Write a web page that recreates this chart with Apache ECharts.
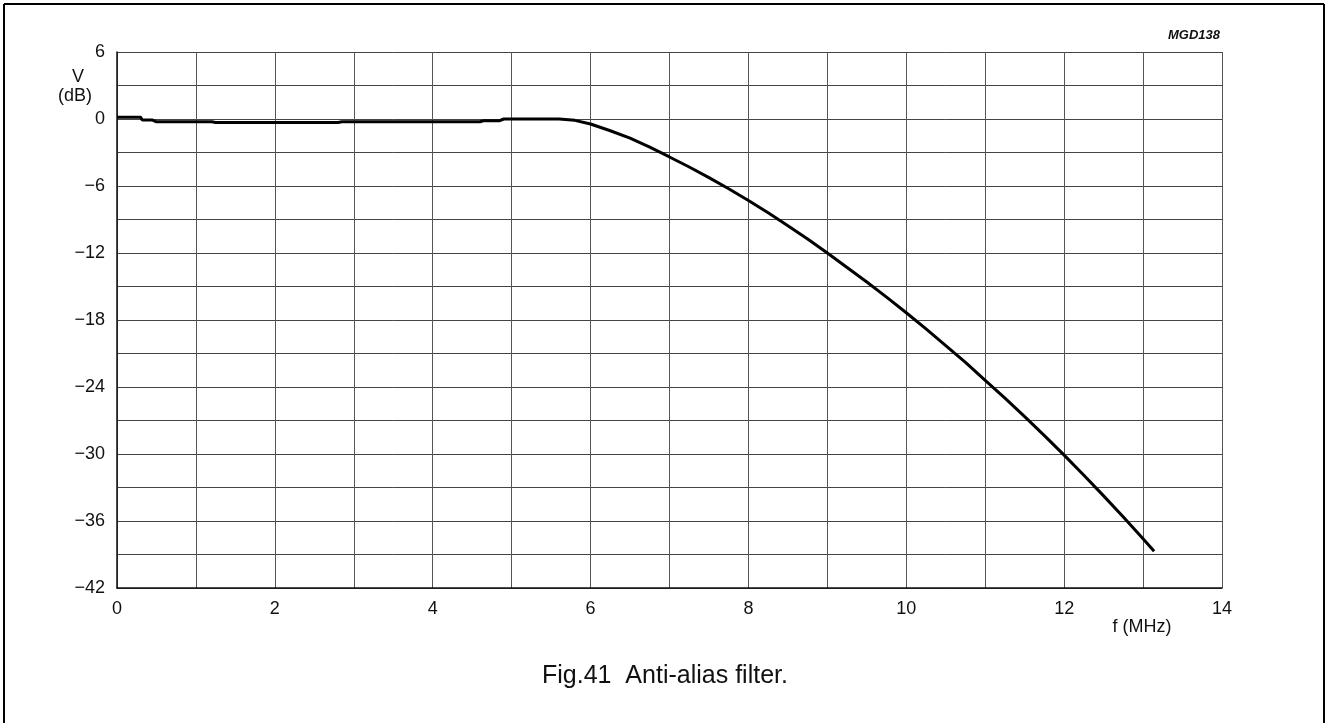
<!DOCTYPE html>
<html>
<head>
<meta charset="utf-8">
<script src="https://cdn.jsdelivr.net/npm/echarts@6/dist/echarts.min.js"></script>
<style>
html,body{margin:0;padding:0;background:#fff;}
#c{width:1327px;height:723px;}
</style>
</head>
<body>
<div id="c"></div>
<script>
// Frequency (MHz) and gain (dB)
const freqMHz = [0, 0.3, 0.32, 0.45, 0.5, 1.2, 1.25, 2.8, 2.85, 4.6, 4.65, 4.85, 4.9, 5.6, 5.8, 6.0, 6.25, 6.5, 6.75, 7.0, 7.25, 7.5, 7.75, 8.0, 8.25, 8.5, 8.75, 9.0, 9.25, 9.5, 9.75, 10.0, 10.25, 10.5, 10.75, 11.0, 11.25, 11.5, 11.75, 12.0, 12.25, 12.5, 12.75, 13.0, 13.14];
const gainDB  = [0.15, 0.15, -0.1, -0.1, -0.25, -0.25, -0.32, -0.32, -0.25, -0.25, -0.15, -0.15, 0.0, 0.0, -0.12, -0.45, -1.05, -1.72, -2.52, -3.4, -4.3, -5.25, -6.25, -7.3, -8.4, -9.55, -10.75, -12.0, -13.3, -14.6, -15.95, -17.35, -18.8, -20.3, -21.8, -23.4, -25.0, -26.65, -28.35, -30.1, -31.9, -33.75, -35.65, -37.6, -38.7];
const xTickLabels = ['0', '2', '4', '6', '8', '10', '12', '14'];
const yTickLabels = ['6', '0', '\u22126', '\u221212', '\u221218', '\u221224', '\u221230', '\u221236', '\u221242'];

const FONT = '"Liberation Sans", Arial, sans-serif';
const data = freqMHz.map((f, i) => [f, gainDB[i]]);

const chart = echarts.init(document.getElementById('c'), null, {renderer: 'canvas'});
chart.setOption({
  animation: false,
  backgroundColor: '#fff',
  grid: {left: 117, right: 105, top: 52, bottom: 135, containLabel: false},
  xAxis: {
    type: 'value', min: 0, max: 14, interval: 1,
    axisLine: {show: true, onZero: false, lineStyle: {color: '#111', width: 1.5}},
    axisTick: {show: false},
    splitLine: {show: true, lineStyle: {color: '#555', width: 1}},
    axisLabel: {
      margin: 12, color: '#111', fontFamily: FONT, fontSize: 18,
      formatter: v => (v % 2 === 0 ? xTickLabels[v / 2] : '')
    }
  },
  yAxis: {
    type: 'value', min: -42, max: 6, interval: 3,
    axisLine: {show: true, onZero: false, lineStyle: {color: '#111', width: 1.5}},
    axisTick: {show: false},
    splitLine: {show: true, lineStyle: {color: '#444', width: 1}},
    axisLabel: {
      margin: 12, color: '#111', fontFamily: FONT, fontSize: 18,
      padding: [4, 0, 0, 0],
      formatter: v => (v % 6 === 0 ? yTickLabels[(6 - v) / 6] : '')
    }
  },
  series: [{
    type: 'line',
    data: data,
    showSymbol: false,
    lineStyle: {color: '#000', width: 3},
    clip: false
  }],
  graphic: [
    {type: 'line', shape: {x1: 4, y1: 4, x2: 1324, y2: 4}, style: {stroke: '#000', lineWidth: 2}},
    {type: 'line', shape: {x1: 4, y1: 4, x2: 4, y2: 723}, style: {stroke: '#000', lineWidth: 2}},
    {type: 'line', shape: {x1: 1324, y1: 4, x2: 1324, y2: 723}, style: {stroke: '#000', lineWidth: 2}},
    {type: 'text', x: 78, y: 77, style: {text: 'V', font: '18px ' + FONT, fill: '#111', textAlign: 'center', textVerticalAlign: 'middle'}},
    {type: 'text', x: 75, y: 96, style: {text: '(dB)', font: '18px ' + FONT, fill: '#111', textAlign: 'center', textVerticalAlign: 'middle'}},
    {type: 'text', x: 1142, y: 627, style: {text: 'f (MHz)', font: '18px ' + FONT, fill: '#111', textAlign: 'center', textVerticalAlign: 'middle'}},
    {type: 'text', x: 1194, y: 35, style: {text: 'MGD138', font: 'italic bold 13px ' + FONT, fill: '#111', textAlign: 'center', textVerticalAlign: 'middle'}},
    {type: 'text', x: 542, y: 676, style: {text: 'Fig.41  Anti-alias filter.', font: '25px ' + FONT, fill: '#111', textAlign: 'left', textVerticalAlign: 'middle'}}
  ]
});
</script>
</body>
</html>
